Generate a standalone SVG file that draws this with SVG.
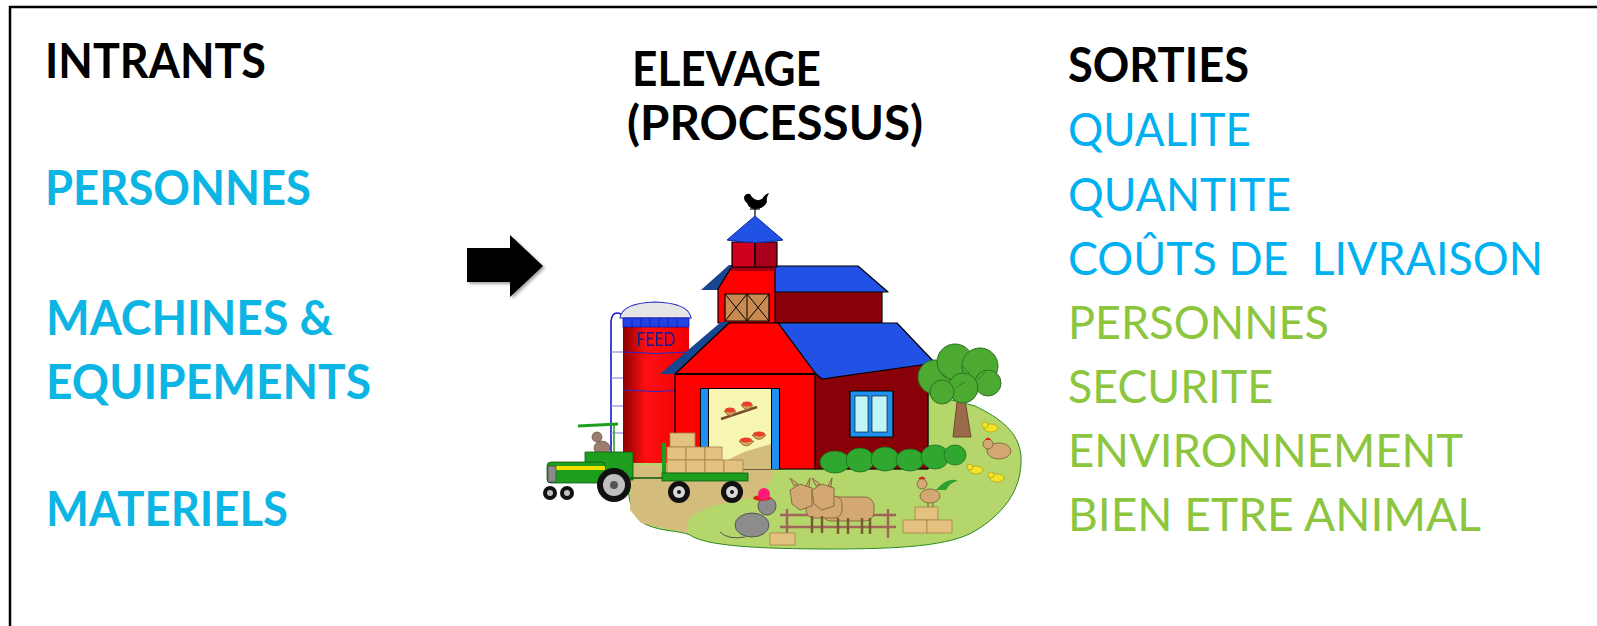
<svg xmlns="http://www.w3.org/2000/svg" width="1597" height="626" viewBox="0 0 1597 626">
<style>
text{font-family:Lato,"Liberation Sans",sans-serif;white-space:pre}
.b{font-weight:700;font-size:47px}
.r{font-weight:400;font-size:47px}
.k{fill:#000}
.ci{fill:#0DB5E4}
.co{fill:#00B0F0}
.gr{fill:#8CC63F}
.ol{stroke:#000;stroke-width:1.2;stroke-linejoin:round}
.bale{fill:#E2C27E;stroke:#A8824A;stroke-width:0.8}
.tan{fill:#D4A872;stroke:#7A5A34;stroke-width:0.8}
</style>
<defs>
<linearGradient id="silo" x1="0" x2="1" y1="0" y2="0">
<stop offset="0" stop-color="#8E0000"/>
<stop offset="0.35" stop-color="#FF1010"/>
<stop offset="1" stop-color="#F00000"/>
</linearGradient>
<filter id="sh" x="-20%" y="-20%" width="150%" height="150%">
<feDropShadow dx="2" dy="2" stdDeviation="1.5" flood-color="#000" flood-opacity="0.35"/>
</filter>
</defs>
<rect x="0" y="0" width="1597" height="626" fill="#fff"/>
<rect x="10" y="7" width="1600" height="630" fill="none" stroke="#000" stroke-width="2.5"/>

<g id="intrants">
<text class="b k" x="45" y="78" textLength="221" lengthAdjust="spacingAndGlyphs">INTRANTS</text>
<text class="b ci" x="45" y="205" textLength="266" lengthAdjust="spacingAndGlyphs">PERSONNES</text>
<text class="b ci" x="46" y="335" textLength="287" lengthAdjust="spacingAndGlyphs">MACHINES &amp;</text>
<text class="b ci" x="46" y="399" textLength="325" lengthAdjust="spacingAndGlyphs">EQUIPEMENTS</text>
<text class="b ci" x="46" y="526" textLength="242" lengthAdjust="spacingAndGlyphs">MATERIELS</text>
</g>

<g id="elevage">
<text class="b k" x="632" y="86" textLength="189" lengthAdjust="spacingAndGlyphs">ELEVAGE</text>
<text class="b k" x="627" y="140" textLength="296" lengthAdjust="spacingAndGlyphs">(PROCESSUS)</text>
<g id="farm">
<!-- ground -->
<path d="M632,462 C626,480 626,506 640,521 C655,532 680,530 690,535 C705,546 760,549 830,549 C900,549 950,546 975,531 C1000,516 1023,492 1021,456 C1019,432 1000,418 975,406 L928,394 L928,469 L700,469 L668,452 L646,453 Z" fill="#B5D66B" stroke="#2E8A22" stroke-width="1"/>
<path d="M632,465 L630,510 L641,523 L687,533 L689,518 L708,507 L753,497 L770,482 L775,469 L700,469 L668,466 Z" fill="#D4BC7C"/>
<!-- ladder -->
<g fill="none" stroke="#1818C8" stroke-width="1.6">
<path d="M611,457 L611,321 Q612,313 617,313 Q622,313 623,318"/>
</g>
<g stroke="#8C8CE8" stroke-width="1.2">
<line x1="611" y1="352" x2="623" y2="352"/>
<line x1="611" y1="378" x2="623" y2="378"/>
<line x1="611" y1="406" x2="623" y2="406"/>
<line x1="611" y1="433" x2="623" y2="433"/>
</g>
<!-- silo -->
<rect x="623" y="322" width="66" height="141" fill="url(#silo)"/>
<path d="M620,318 Q622,303 655,302 Q689,303 691,318 Z" fill="#E6E6E6" stroke="#2A2AC8" stroke-width="1.2"/>
<rect x="623" y="318" width="66" height="9" fill="#2244E6" stroke="#1818A0" stroke-width="0.8"/>
<g stroke="#1818A0" stroke-width="0.8">
<line x1="632" y1="318" x2="632" y2="327"/><line x1="641" y1="318" x2="641" y2="327"/><line x1="650" y1="318" x2="650" y2="327"/><line x1="659" y1="318" x2="659" y2="327"/><line x1="668" y1="318" x2="668" y2="327"/><line x1="677" y1="318" x2="677" y2="327"/>
</g>
<path d="M623,352 Q655,355 689,352 M623,390 Q655,393 689,390" fill="none" stroke="#2A2AC8" stroke-width="1"/>
<text x="636" y="346" font-size="19" fill="#1A1A8C" textLength="39" lengthAdjust="spacingAndGlyphs">FEED</text>
<!-- upper barn -->
<rect x="775" y="290" width="107" height="33" fill="#8A0008" class="ol"/>
<path d="M757,266 L858,266 L888,292 L775,292 Z" fill="#2251E6" class="ol"/>
<path d="M701,290 L729,265 L736,265 L718,290 Z" fill="#17458F"/>
<path d="M718,323 L718,289 L731,268 L775,268 L775,323 Z" fill="#FF0000" class="ol"/>
<rect x="731" y="266" width="44" height="5" fill="#A0000E"/>
<rect x="725" y="294" width="44" height="27" fill="#C98A52" class="ol"/>
<g stroke="#000" stroke-width="1">
<line x1="747" y1="294" x2="747" y2="321"/>
<line x1="725" y1="294" x2="747" y2="321"/><line x1="747" y1="294" x2="725" y2="321"/>
<line x1="747" y1="294" x2="769" y2="321"/><line x1="769" y1="294" x2="747" y2="321"/>
</g>
<!-- cupola -->
<rect x="732" y="242" width="23" height="25" fill="#D0001C" class="ol"/>
<rect x="755" y="242" width="22" height="25" fill="#A8001A" class="ol"/>
<path d="M727,240 L755,216 L783,240 Q755,245 727,240 Z" fill="#2251E6" stroke="#0A2A9A" stroke-width="1"/>
<line x1="755" y1="216" x2="755" y2="207" stroke="#000" stroke-width="1.2"/>
<path d="M744,197 Q746,193 750,194 L752,197 Q756,202 762,199 Q765,194 769,193 Q766,198 767,202 Q764,209 756,209 Q749,209 747,203 Q744,201 744,197 Z" fill="#000"/>
<line x1="750" y1="209" x2="760" y2="209" stroke="#000" stroke-width="1.2"/>
<!-- lower barn -->
<path d="M815,373 L822,379 L928,363 L928,469 L815,469 Z" fill="#8A0008" class="ol"/>
<path d="M778,323 L897,323 L935,363 L822,379 L815,373 Z" fill="#2251E6" class="ol"/>
<path d="M660,374 L721,322 L731,322 L677,374 Z" fill="#17458F"/>
<path d="M675,374 L729,323 L778,323 L815,373 L815,469 L675,469 Z" fill="#FF0000" class="ol"/>
<line x1="675" y1="374" x2="815" y2="374" stroke="#000" stroke-width="2"/>
<!-- door -->
<rect x="700" y="388" width="80" height="81" fill="#000"/>
<rect x="701" y="389" width="7" height="80" fill="#2090F0"/>
<rect x="772" y="389" width="7" height="80" fill="#2090F0"/>
<rect x="709" y="389" width="62" height="80" fill="#F6F5B2"/>
<path d="M709,469 L771,469 L771,444 L744,452 Z" fill="#D4BC7C"/>
<line x1="721" y1="419" x2="757" y2="407" stroke="#7A4A2A" stroke-width="2.5"/>
<g fill="#D9A458" stroke="#7A5A34" stroke-width="0.7">
<path d="M724,411 Q730,420 736,411 Z"/><path d="M741,405 Q747,414 753,405 Z"/>
<path d="M739,441 Q746,451 754,441 Z"/><path d="M752,435 Q759,444 766,435 Z"/>
</g>
<g fill="#E8402A">
<ellipse cx="730" cy="410" rx="5" ry="2.5"/><ellipse cx="747" cy="404" rx="5" ry="2.5"/>
<ellipse cx="746" cy="440" rx="6" ry="2.5"/><ellipse cx="759" cy="434" rx="6" ry="2.5"/>
</g>
<!-- window -->
<rect x="850" y="391" width="43" height="46" fill="#2090F0" class="ol"/>
<rect x="855" y="396" width="13" height="36" fill="#BFF5F5" stroke="#000" stroke-width="0.6"/>
<rect x="872" y="396" width="15" height="36" fill="#BFF5F5" stroke="#000" stroke-width="0.6"/>
<!-- tree -->
<path d="M953,437 L957,402 L965,400 L971,437 Z" fill="#9B6A4A" stroke="#5A3A22" stroke-width="0.8"/>
<g fill="#4CAA32" stroke="#2E7020" stroke-width="1">
<circle cx="935" cy="377" r="17"/><circle cx="955" cy="362" r="18"/><circle cx="980" cy="366" r="18"/>
<circle cx="988" cy="383" r="13"/><circle cx="963" cy="388" r="15"/><circle cx="942" cy="392" r="12"/>
</g>
<g fill="none" stroke="#2E7020" stroke-width="0.8">
<path d="M940,372 L950,380 M962,366 L970,374 M978,380 L985,372 M955,388 L965,382"/>
</g>
<!-- bushes -->
<g fill="#30A830" stroke="#1C6E1C" stroke-width="0.8">
<ellipse cx="835" cy="462" rx="15" ry="11"/><ellipse cx="860" cy="460" rx="14" ry="12"/>
<ellipse cx="885" cy="459" rx="14" ry="12"/><ellipse cx="910" cy="460" rx="14" ry="11"/>
<ellipse cx="935" cy="457" rx="14" ry="12"/><ellipse cx="955" cy="455" rx="11" ry="10"/>
</g>
<!-- tractor -->
<line x1="578" y1="426" x2="618" y2="424" stroke="#1E9E1E" stroke-width="3"/>
<line x1="614" y1="425" x2="614" y2="457" stroke="#1E9E1E" stroke-width="1.5"/>
<ellipse cx="602" cy="448" rx="8" ry="7" fill="#9C7C6C" stroke="#5A4030" stroke-width="0.6"/>
<circle cx="597" cy="437" r="5" fill="#9C7C6C" stroke="#5A4030" stroke-width="0.6"/>
<path d="M585,452 L633,452 L633,480 L585,480 Z" fill="#1E9E1E" stroke="#0A5A0A" stroke-width="0.8"/>
<rect x="547" y="462" width="58" height="21" rx="4" fill="#1E9E1E" stroke="#0A5A0A" stroke-width="0.8"/>
<rect x="553" y="466" width="52" height="4" fill="#F0E000"/>
<rect x="548" y="466" width="8" height="16" fill="#8A8A8A" stroke="#333" stroke-width="0.6"/>
<circle cx="614" cy="485" r="17" fill="#111"/>
<circle cx="614" cy="485" r="11" fill="#C0C0C0"/>
<circle cx="614" cy="485" r="4" fill="#555"/>
<circle cx="550" cy="493" r="7" fill="#111"/><circle cx="550" cy="493" r="3" fill="#C0C0C0"/>
<circle cx="567" cy="493" r="7" fill="#111"/><circle cx="567" cy="493" r="3" fill="#C0C0C0"/>
<!-- trailer -->
<line x1="630" y1="478" x2="662" y2="478" stroke="#0A5A0A" stroke-width="1.5"/>
<rect x="662" y="443" width="4" height="32" fill="#1E9E1E"/>
<rect class="bale" x="670" y="433" width="25" height="14"/>
<rect class="bale" x="667" y="447" width="19" height="13"/><rect class="bale" x="686" y="447" width="19" height="13"/><rect class="bale" x="705" y="447" width="17" height="13"/>
<rect class="bale" x="667" y="460" width="19" height="13"/><rect class="bale" x="686" y="460" width="19" height="13"/><rect class="bale" x="705" y="460" width="19" height="13"/><rect class="bale" x="724" y="460" width="19" height="13"/>
<rect x="662" y="473" width="86" height="8" fill="#1E9E1E" stroke="#0A5A0A" stroke-width="0.8"/>
<circle cx="679" cy="492" r="11" fill="#111"/><circle cx="679" cy="492" r="6" fill="#D8D8D8"/><circle cx="679" cy="492" r="2" fill="#111"/>
<circle cx="732" cy="492" r="11" fill="#111"/><circle cx="732" cy="492" r="6" fill="#D8D8D8"/><circle cx="732" cy="492" r="2" fill="#111"/>
<!-- fence and cows -->
<g stroke="#A0665A" stroke-width="2.5">
<line x1="780" y1="515" x2="896" y2="515"/><line x1="780" y1="527" x2="896" y2="527"/>
<line x1="787" y1="509" x2="787" y2="538"/><line x1="888" y1="509" x2="888" y2="538"/>
</g>
<g class="tan">
<rect x="822" y="497" width="52" height="24" rx="9"/>
<rect x="806" y="496" width="36" height="22" rx="8"/>
<path d="M790,490 L800,484 L812,488 L812,506 L800,510 L792,504 Z"/>
<path d="M812,490 L822,484 L834,488 L834,506 L822,510 L814,504 Z"/>
<path d="M794,486 L790,478 L798,484 Z M806,486 L810,478 L809,487 Z M816,486 L812,478 L820,484 Z M828,486 L832,478 L831,487 Z"/>
</g>
<g stroke="#7A5A34" stroke-width="2.5">
<line x1="812" y1="516" x2="812" y2="533"/><line x1="822" y1="516" x2="822" y2="533"/>
<line x1="838" y1="518" x2="838" y2="534"/><line x1="848" y1="518" x2="848" y2="534"/>
<line x1="862" y1="518" x2="862" y2="534"/><line x1="870" y1="518" x2="870" y2="534"/>
</g>
<!-- mouse -->
<path d="M745,537 Q728,540 720,532" fill="none" stroke="#555" stroke-width="1"/>
<ellipse cx="752" cy="525" rx="17" ry="12" fill="#8C8C8C" stroke="#444" stroke-width="0.8"/>
<circle cx="767" cy="506" r="9" fill="#8C8C8C" stroke="#444" stroke-width="0.8"/>
<ellipse cx="762" cy="498" rx="9" ry="3" fill="#E02020"/>
<circle cx="764" cy="494" r="6" fill="#FF1A78"/>
<rect class="bale" x="770" y="533" width="25" height="12"/>
<!-- right bales and rooster -->
<rect class="bale" x="915" y="507" width="23" height="13"/>
<rect class="bale" x="903" y="520" width="24" height="13"/><rect class="bale" x="927" y="520" width="25" height="13"/>
<path d="M936,490 Q948,476 958,481 Q950,482 946,490 Z" fill="#2EA02E"/>
<ellipse cx="930" cy="496" rx="10" ry="7" class="tan"/>
<circle cx="922" cy="484" r="5" class="tan"/>
<path d="M918,479 Q922,474 926,479 Z" fill="#E02020"/>
<line x1="928" y1="503" x2="928" y2="507" stroke="#7A5A34"/><line x1="933" y1="503" x2="933" y2="507" stroke="#7A5A34"/>
<!-- chickens -->
<ellipse cx="999" cy="451" rx="12" ry="8" class="tan"/>
<circle cx="988" cy="444" r="5" class="tan"/>
<path d="M985,440 Q988,435 991,440 Z" fill="#E02020"/>
<g fill="#F2E22A" stroke="#A89010" stroke-width="0.6">
<ellipse cx="991" cy="428" rx="7" ry="4"/><circle cx="985" cy="425" r="3"/>
<ellipse cx="976" cy="470" rx="7" ry="4"/><circle cx="970" cy="467" r="3"/>
<ellipse cx="997" cy="478" rx="7" ry="4"/><circle cx="991" cy="475" r="3"/>
</g>
</g>
</g>

<g id="sorties">
<text class="b k" x="1068" y="82" textLength="181" lengthAdjust="spacingAndGlyphs">SORTIES</text>
<text class="r co" x="1068" y="146" textLength="183" lengthAdjust="spacingAndGlyphs">QUALITE</text>
<text class="r co" x="1068" y="211" textLength="223" lengthAdjust="spacingAndGlyphs">QUANTITE</text>
<text class="r co" x="1068" y="275" textLength="475" lengthAdjust="spacingAndGlyphs">COÛTS DE  LIVRAISON</text>
<text class="r gr" x="1068" y="339" textLength="261" lengthAdjust="spacingAndGlyphs">PERSONNES</text>
<text class="r gr" x="1068" y="403" textLength="205" lengthAdjust="spacingAndGlyphs">SECURITE</text>
<text class="r gr" x="1068" y="467" textLength="395" lengthAdjust="spacingAndGlyphs">ENVIRONNEMENT</text>
<text class="r gr" x="1068" y="531" textLength="413" lengthAdjust="spacingAndGlyphs">BIEN ETRE ANIMAL</text>
</g>

<g id="connectors">
<polygon points="467,248 510,248 510,235 543,266 510,297 510,282 467,282" fill="#000" filter="url(#sh)"/>
</g>
</svg>
